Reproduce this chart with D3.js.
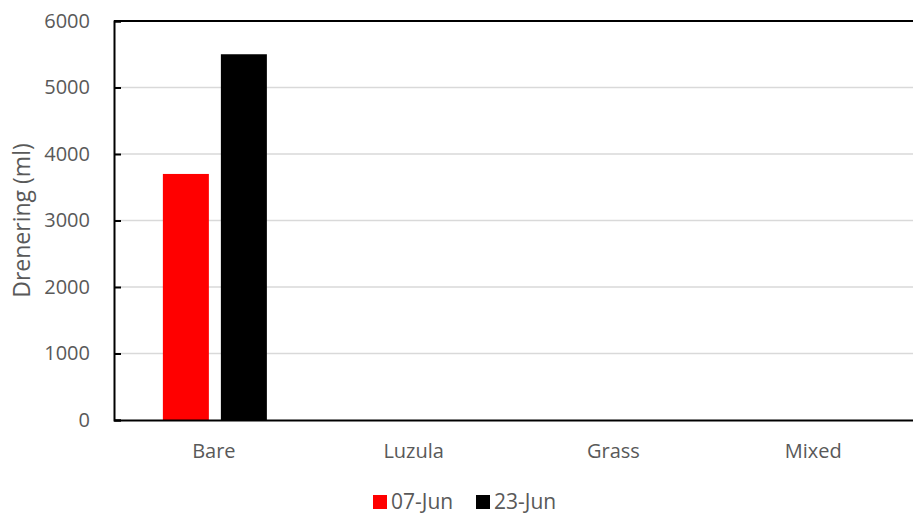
<!DOCTYPE html>
<html>
<head>
<meta charset="utf-8">
<script src="https://cdn.jsdelivr.net/npm/d3@7"></script>
<style>
  body { margin: 0; background: #fff; }
  text { font-family: "Open Sans", sans-serif; fill: #595959; }
</style>
</head>
<body>
<div id="chart"></div>
<script>
// data
var categories = ["Bare", "Luzula", "Grass", "Mixed"];
var seriesNames = ["07-Jun", "23-Jun"];
var seriesColors = ["#ff0000", "#000000"];
var jun07 = [3700, null, null, null];
var jun23 = [5500, null, null, null];
var yTicks = [0, 1000, 2000, 3000, 4000, 5000, 6000];

var svgWidth = 913;
var svgHeight = 514;

var margin = { top: 21, bottom: 94, right: 0, left: 114 };
var width = svgWidth - margin.left - margin.right;
var height = svgHeight - margin.top - margin.bottom;

var svg = d3.select("#chart")
    .append("svg")
    .attr("width", svgWidth)
    .attr("height", svgHeight);

var chartGroup = svg.append("g")
    .attr("transform", `translate(${margin.left}, ${margin.top})`);

var xScale = d3.scaleBand()
    .domain(categories)
    .range([0, width]);

// inner band for the two series (group ~104px wide)
var xInner = d3.scaleBand()
    .domain(seriesNames)
    .range([xScale.bandwidth() / 2 - 51, xScale.bandwidth() / 2 + 53])
    .paddingInner(0.207);

var yScale = d3.scaleLinear()
    .domain([0, 6000])
    .range([height, 0]);

// gridlines
chartGroup.selectAll(".grid")
    .data(yTicks.filter(d => d > 0 && d < 6000))
    .enter()
    .append("line")
    .attr("x1", 0)
    .attr("x2", width)
    .attr("y1", d => yScale(d))
    .attr("y2", d => yScale(d))
    .attr("stroke", "#d9d9d9")
    .attr("stroke-width", 1.5);

// top line
chartGroup.append("line")
    .attr("x1", 0)
    .attr("x2", width)
    .attr("y1", yScale(6000))
    .attr("y2", yScale(6000))
    .attr("stroke", "#000")
    .attr("stroke-width", 2);

// bars
var rows = [];
categories.forEach(function (c, i) {
    [jun07, jun23].forEach(function (vals, j) {
        if (vals[i] != null) rows.push({ cat: c, series: seriesNames[j], value: vals[i], color: seriesColors[j] });
    });
});

chartGroup.selectAll(".bar")
    .data(rows)
    .enter()
    .append("rect")
    .attr("x", d => xScale(d.cat) + xInner(d.series))
    .attr("y", d => yScale(d.value))
    .attr("width", xInner.bandwidth())
    .attr("height", d => height - yScale(d.value))
    .attr("fill", d => d.color);

// y axis
var leftAxis = d3.axisLeft(yScale)
    .tickValues(yTicks)
    .tickFormat(d3.format("d"))
    .tickSize(-7)
    .tickPadding(24);

var yAxis = chartGroup.append("g").call(leftAxis);
yAxis.select(".domain").attr("stroke", "#000").attr("stroke-width", 2);
yAxis.selectAll(".tick line").attr("stroke", "#000").attr("stroke-width", 2);
yAxis.selectAll("text")
    .style("font-size", "20px")
    .attr("fill", "#595959");

// x axis
var bottomAxis = d3.axisBottom(xScale)
    .tickSize(0)
    .tickPadding(24);

var xAxis = chartGroup.append("g")
    .attr("transform", `translate(0, ${height})`)
    .call(bottomAxis);
xAxis.select(".domain").attr("stroke", "#000").attr("stroke-width", 2);
xAxis.selectAll("text")
    .style("font-size", "20px")
    .attr("fill", "#595959");

// y axis title
svg.append("text")
    .attr("transform", "rotate(-90)")
    .attr("x", -(margin.top + height / 2))
    .attr("y", 30)
    .attr("text-anchor", "middle")
    .style("font-size", "23px")
    .text("Drenering (ml)");

// legend
var legendX = [373, 476];
var legend = svg.selectAll(".legend")
    .data(seriesNames)
    .enter()
    .append("g")
    .attr("transform", (d, i) => `translate(${legendX[i]}, 495)`);

legend.append("rect")
    .attr("width", 14)
    .attr("height", 14)
    .attr("fill", (d, i) => seriesColors[i]);

legend.append("text")
    .attr("x", 18)
    .attr("y", 14)
    .style("font-size", "21px")
    .text(d => d);
</script>
</body>
</html>
